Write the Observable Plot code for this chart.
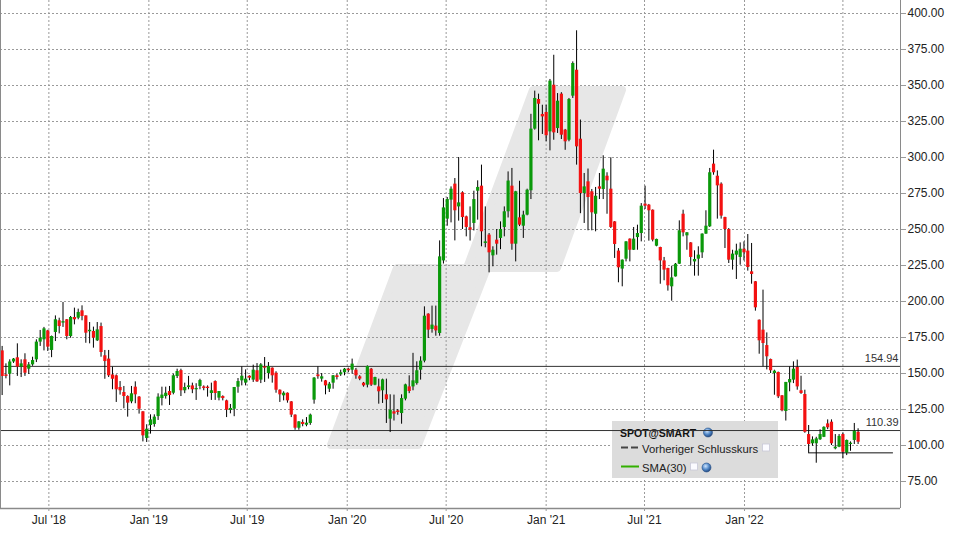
<!DOCTYPE html>
<html><head><meta charset="utf-8">
<script src="https://cdn.jsdelivr.net/npm/d3@7"></script>
<script src="https://cdn.jsdelivr.net/npm/@observablehq/plot@0.6"></script>
<style>
body{margin:0;background:#fff;}
#wrap{position:relative;width:953px;height:536px;overflow:hidden;}
#wm{position:absolute;left:0;top:0;}
#chart{position:absolute;left:0;top:0;}
</style></head><body>
<div id="wrap">
<svg id="wm" width="953" height="536"><path d="M331,445 L397,268 L467,268 L533,90 L622,90 L557,268 L487,268 L418,445 Z" fill="#e7e7e7" stroke="#e7e7e7" stroke-width="8" stroke-linejoin="round"/></svg>
<div id="chart"></div>
</div>
<script>
// Weekly candles, SPOT@SMART, first week ending 2018-04-06
const firstWeek = "2018-04-06";
const opens = [165.7,149,149.5,158,160.9,154.4,159.5,153,156,159.5,
171.8,173.4,179.6,166,178.5,186.6,185,187.3,175.7,188.9,
188.4,193.5,190,179,179.2,172.7,182.6,162.3,160,149,
148.4,140.3,136.8,134,130.3,140.5,133.6,123.4,104.9,113.9,
114.6,120.1,132.6,134,137.5,136.3,147.9,152,138,140.3,
141.4,138.7,141,140.7,140.5,136.1,144.4,132.9,134,131,
124.3,125.2,140.5,144.9,143.3,148.1,145.4,151.9,145.4,154.6,
150,153.7,150.2,138.4,134.5,136.3,130.3,121.1,112,116,
114.1,115.3,131.5,149,146.1,144.9,139.1,143.3,148.4,149.1,
150.5,153,152.3,152.3,147.7,143.3,141.9,153,141.9,140.7,
138,135.2,118.3,123.4,124,122.2,132.2,140.7,140.7,143,
152.3,158.6,191.2,180.6,182.9,177.8,228.2,257.2,270.4,281.5,
265.7,275.5,258.8,251.2,254.2,276.6,280.1,240.3,246.1,231.7,
242.6,243.8,251.4,262.3,280.1,239.8,258.1,252.3,260,276.9,
319.7,340.3,329.9,331.3,317.8,350.2,320.1,344,319,312,
342.6,360.6,312.7,275,283.1,276.2,260.6,279.6,277.8,287,
278,255.3,235,222.5,229.4,243.3,235.6,244.4,247.2,267.6,
266.9,263.4,238.4,237.5,228.2,222.9,210.2,217.1,225.9,260.6,
245.6,240.7,227.5,229.4,233.8,246.8,251.9,295.4,287,281.5,
258.3,250,228.7,232.2,230.6,236.3,235,220.6,213.7,187,
180.1,169.4,159.7,150,150.7,134.5,123.6,143.5,145.4,154.2,
138,135.4,107.6,101.2,101.2,104,105.7,115,116.2,97.7,
98.8,107.6,94.7,100.7,103.5,109.2];
const highs = [168.8,156.7,159.5,160.4,170.6,159.5,163.7,157.6,161.3,173.4,
179.9,182,180,176,190,188.4,199.3,187.5,189.6,195.4,
194.7,197,190,185.4,182.2,185.4,185,166,166,154.4,
149,144.4,141,134.5,141,144.2,134,123.5,114.4,121.3,
121.3,135.9,140.5,140.5,141,149.5,153,153,143.3,148,
143.3,142.9,146,141.4,141.4,143.3,144.9,137.5,134.5,131.5,
128.5,140.3,146.5,154.6,152.5,148.4,155.8,156.9,156.9,161.1,
157.6,153.9,151.2,138.6,137.3,136.5,130.5,121.3,116.6,117.8,
119.4,121.8,147.2,154.6,150,145.2,143.8,148.6,149.5,152.3,
153.5,153.7,160,153.5,148.5,143.8,155.3,153.5,147.4,146.1,
146.1,146.1,135.2,135,125,135.2,142.6,148.4,164,158.1,
161.6,196.3,191.5,196.8,196.8,242.1,271.5,272.2,279.6,285.4,
300,276.2,259.3,265.7,276.6,283.8,294.7,265.7,247.2,238,
250,255.3,265.7,290,292.4,276.5,283.5,262.7,278,330,
346.1,344,336.3,336.3,354.2,371,344.4,345,319.5,341,
366.4,388,326,288.9,292,277.8,279.2,288.9,301.2,289.4,
299.8,255.5,236.8,228.9,241.6,243.5,251.4,253,268,280.1,
267.4,263.6,243.3,237.7,230.6,223.1,224.5,226.4,256,263.4,
247.9,240.9,235.2,238,247,263,292.4,305.1,290.7,282.4,
258.5,250.7,235.6,239.8,240.7,241.4,246.5,240.3,213.9,187.2,
207.9,178.2,160,152.3,151,134.7,143.8,154.6,158.1,159.3,
148.1,138.4,113.9,106,105.7,110.9,113,117.8,117.8,107.6,
107.6,108.6,103.8,102.5,115.3,111.6];
const lows = [134.7,146.3,141.4,157,148,147.2,148,149.3,155,157.6,
168.8,165.7,165.3,161,172.2,177.5,182,173.4,174.5,183.8,
187.3,186.6,171,170.6,167.6,172.2,161.3,146,147.2,138.7,
129.9,135,125.5,119.7,129,129,121.8,102.5,102.1,107.9,
112.7,117.4,127.5,132.2,127.8,135.2,146.5,134,136,138.7,
136,131.3,138.7,138,133.6,131.3,131.3,131,131,119.4,
122,120,136.3,141.4,141.4,145,143.8,143.8,143,143.8,
146.1,143.3,136.3,129.9,131,129.4,119.4,110.6,110.6,113,
113,114,128.7,146,144,135.2,136.8,139.1,145.5,148,
148.4,150.5,149.5,146,145,140.5,140,141,141.5,128.7,
129.2,115.3,109,117,121,114.8,131,136,138,141.9,
145.4,157.4,174.3,178,175.9,175.9,226,252.3,254.6,242.1,
255.8,250,244.9,242,249,256.5,238,237.3,219.9,224.1,
232.2,236,244.9,258,235.6,227.5,252,243.8,259.5,270.8,
319,311.6,316,311,304.6,312,316.7,312.5,305,310.9,
341,294.7,261,254.2,249.1,249.1,248.4,270.8,270.8,260.6,
250.7,229.9,213,210.2,227.5,227.5,235.4,235.6,241.4,263.9,
241.9,241.4,238,212,214.4,207.2,200.2,217,225.7,244.9,
235.6,224.5,217.6,217.6,229.9,246.6,251.4,287.7,257.2,257.2,
236.8,226.4,221.8,215.3,225.2,228.2,221.1,212,193.3,163.4,
154.6,152.5,150,134.9,132.6,123.4,117,137.3,143,138.4,
135.5,108.5,94.6,99.5,87.7,103.5,105.5,111,100,97,
98.5,90.7,93,96,100.7,100.7];
const closes = [147.9,148,158,160,154.4,156.7,150.2,156,159,171.8,
174.5,181,168.3,175.7,187.3,182.6,186,175.7,188.9,187.3,
192.4,189.6,178,180,174.5,180.3,164.6,158.3,148.4,146,
138.7,138,134,129.4,135.9,135.2,125.2,106.7,111.3,117.8,
119.7,133.6,135,136.3,134.7,148.4,151.4,138,140.3,141.4,
138.7,139.6,145.1,139.6,139.6,138,136.1,137.5,132.6,124.5,
125.7,140.3,144.4,148.1,146.1,146.8,152.3,144.2,156,153.7,
154.9,148.4,138.4,135.2,136.3,131,121.1,112,116.4,114.6,
115.5,121.1,146.8,147.8,147.7,141.4,142.6,148.4,147.2,150.5,
153,151.9,156.5,148.4,146.1,141.4,154.9,141.9,147.2,137.3,
145.6,131.7,124.5,121.8,122.9,132.6,142.1,137.5,144.9,151.9,
158.6,189.8,180.1,183.6,179.6,231,265,270.8,278,263,
268.5,258.3,251.4,249.5,270.8,279.2,248.4,241.4,233.8,235.6,
239.8,250,262.3,283.6,239.8,276.2,253,260,277.3,319.7,
341,337,328.2,315.1,353,317.1,339.1,315.5,310.9,340.3,
365.3,307.4,275,279.6,272.2,261.6,273.1,278,291.9,283.8,
251.4,239.6,223.4,228.7,241.4,235.6,243.3,247.2,266.2,266.2,
263,242.6,243.1,228.2,221.8,210.9,216.4,225.9,249.1,247.7,
247.7,230.6,229.2,232.2,246.8,252.3,289.4,289.4,280.3,259.3,
250,228.7,232.9,235,236.3,233.8,223.6,218.8,195.6,172.7,
170.8,161.6,151.9,151.6,133.8,124.1,143.8,145.8,153,140.7,
136.1,109.2,100.7,103.9,104.6,107.6,112.6,112.3,101.2,98.8,
106.3,95.3,103.5,101.6,109.9,102.3];

const yTicks = [75,100,125,150,175,200,225,250,275,300,325,350,375,400];
const xTickDates = ["2018-07-01","2019-01-01","2019-07-01","2020-01-01","2020-07-01","2021-01-01","2021-07-01","2022-01-01","2022-07-01"];
const xTickLabels = ["Jul '18","Jan '19","Jul '19","Jan '20","Jul '20","Jan '21","Jul '21","Jan '22",""];
const refLevels = [154.94, 110.39];
const prevCloseLevel = 94.9;
const prevCloseFromIndex = 212;
const prevCloseTo = "2022-10-02";
const legendTitle = "SPOT@SMART";
const legendItems = ["Vorheriger Schlusskurs", "SMA(30)"];
const xDomain = ["2018-04-03", "2022-10-15"];
const yDomain = [56.25, 409.03];

const UP = "#0a990a", DOWN = "#f31111";
const start = new Date(firstWeek);
const candles = opens.map((o, i) => ({
  date: d3.utcDay.offset(start, 7 * i),
  open: o, high: highs[i], low: lows[i], close: closes[i]
}));
const tickDates = xTickDates.map(d => new Date(d));
const labelMap = new Map(tickDates.map((d, i) => [+d, xTickLabels[i]]));
const prevLine = [{y: prevCloseLevel, x1: candles[prevCloseFromIndex].date, x2: new Date(prevCloseTo)}];

function legendMark() {
  const g = d3.create("svg:g")
    .attr("font-family", "Liberation Sans, Arial, sans-serif")
    .attr("text-anchor", "start");
  const defs = g.append("defs");
  const grad = defs.append("radialGradient").attr("id", "globeGrad").attr("cx", "40%").attr("cy", "35%").attr("r", "70%");
  grad.append("stop").attr("offset", "0%").attr("stop-color", "#cfe6ff");
  grad.append("stop").attr("offset", "55%").attr("stop-color", "#4f86c6");
  grad.append("stop").attr("offset", "100%").attr("stop-color", "#1d3f73");
  g.append("rect").attr("x", 612).attr("y", 421).attr("width", 166).attr("height", 57).attr("fill", "#dcdcdc");
  g.append("text").attr("x", 620).attr("y", 436.5).attr("text-anchor", "start").attr("font-size", 10.5).attr("font-weight", "bold").attr("fill", "#111").text(legendTitle);
  const globe = (cx, cy) => {
    g.append("circle").attr("cx", cx).attr("cy", cy).attr("r", 4.5).attr("fill", "url(#globeGrad)").attr("stroke", "#27508a").attr("stroke-width", 0.6);
  };
  globe(708, 432.5);
  g.append("line").attr("x1", 621).attr("x2", 639).attr("y1", 447.5).attr("y2", 447.5).attr("stroke", "#444").attr("stroke-width", 2).attr("stroke-dasharray", "7,3");
  g.append("text").attr("x", 642).attr("y", 452.5).attr("text-anchor", "start").attr("font-size", 11.3).attr("fill", "#222").text(legendItems[0]);
  const box = (x, y) => g.append("rect").attr("x", x).attr("y", y).attr("width", 7).attr("height", 7).attr("fill", "#fbfbff").attr("stroke", "#c8c8d8").attr("stroke-width", 0.8);
  box(762.5, 444);
  g.append("line").attr("x1", 621).attr("x2", 639).attr("y1", 466.5).attr("y2", 466.5).attr("stroke", "#33b000").attr("stroke-width", 2);
  g.append("text").attr("x", 642).attr("y", 471.5).attr("text-anchor", "start").attr("font-size", 11.3).attr("fill", "#222").text(legendItems[1]);
  box(690.5, 463);
  globe(706.5, 467.5);
  return g.node();
}

const chart = Plot.plot({
  width: 953,
  height: 536,
  marginLeft: 0,
  marginRight: 53,
  marginTop: 0,
  marginBottom: 28,
  style: {fontFamily: "Liberation Sans, Arial, sans-serif", fontSize: "12px", background: "transparent", color: "#222"},
  x: {type: "utc", domain: xDomain.map(d => new Date(d))},
  y: {domain: yDomain},
  color: {type: "identity"},
  marks: [
    Plot.gridY({ticks: yTicks, stroke: "#9a9a9a", strokeOpacity: 1, strokeDasharray: "2,2"}),
    Plot.gridX({ticks: tickDates, stroke: "#9a9a9a", strokeOpacity: 1, strokeDasharray: "2,2"}),
    legendMark,
    Plot.ruleY(refLevels, {stroke: "#333", strokeWidth: 1}),
    Plot.text(refLevels, {y: d => d, text: d => d.toFixed(2), frameAnchor: "right", textAnchor: "end", dx: -2, dy: -8, fontSize: 11, fill: "#333"}),
    Plot.ruleY(prevLine, {y: "y", x1: "x1", x2: "x2", stroke: "#111", strokeWidth: 1}),
    Plot.ruleX(candles, {x: "date", y1: "low", y2: "high", stroke: "#000", strokeWidth: 1}),
    Plot.ruleX(candles, {x: "date", y1: "open", y2: "close", stroke: d => d.close >= d.open ? UP : DOWN, strokeWidth: 3.2}),
    Plot.ruleX([xDomain[0], xDomain[1]].map(d => new Date(d)), {stroke: "#8a8a8a", strokeWidth: 1}),
    Plot.ruleY([yDomain[0]], {stroke: "#8a8a8a", strokeWidth: 1.5}),
    Plot.axisY({anchor: "right", ticks: yTicks, tickFormat: d => d.toFixed(2), tickSize: 5, tickPadding: 2, stroke: "#9a9a9a", label: null, fontSize: 12}),
    Plot.axisX({ticks: tickDates, tickFormat: d => labelMap.get(+d) ?? "", tickSize: 3, tickPadding: 4, stroke: "#9a9a9a", label: null, fontSize: 12})
  ]
});
document.getElementById("chart").appendChild(chart);
</script>
</body></html>
